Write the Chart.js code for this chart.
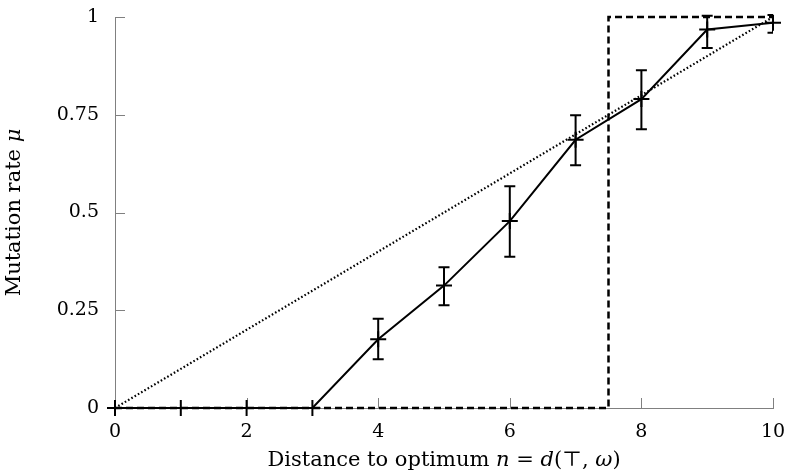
<!DOCTYPE html>
<html>
<head>
<meta charset="utf-8">
<script src="https://cdn.jsdelivr.net/npm/chart.js@4.4.1/dist/chart.umd.min.js"></script>
<style>
  body { margin: 0; background: #fff; }
</style>
</head>
<body>
<canvas id="mu-chart" width="786" height="472"></canvas>
<script>
// measured mutation rate with error bars
const distances = [0, 1, 2, 3, 4, 5, 6, 7, 8, 9, 10];
const muMean = [0, 0, 0, 0, 0.176, 0.313, 0.478, 0.686, 0.79, 0.968, 0.985];
const muLow  = [0, 0, 0, 0, 0.125, 0.263, 0.387, 0.621, 0.713, 0.921, 0.96];
const muHigh = [0, 0, 0, 0, 0.228, 0.36, 0.567, 0.749, 0.864, 1.003, 1.005];

// reference curves
const linearX = [0, 10];
const linearMu = [0, 1];
const stepX = [0, 7.5, 7.5, 10];
const stepMu = [0, 0, 1, 1];

const xTicks = [0, 2, 4, 6, 8, 10];
const yTicks = [0, 0.25, 0.5, 0.75, 1];
const yTickLabels = ["0", "0.25", "0.5", "0.75", "1"];

const FONT = '"DejaVu Serif", "Liberation Serif", serif';
const FONT_SIZE = 19;
const TITLE_SIZE = 21;
const AXIS_GREY = '#808080';

function points(xs, ys) {
  return xs.map((x, i) => ({ x: x, y: ys[i] }));
}

// short tick marks pointing into the plot
const innerTicks = {
  id: 'innerTicks',
  beforeDatasetsDraw(chart) {
    const ctx = chart.ctx;
    const xs = chart.scales.x, ys = chart.scales.y;
    ctx.save();
    ctx.strokeStyle = AXIS_GREY;
    ctx.lineWidth = 1;
    ctx.beginPath();
    xTicks.forEach(v => {
      const px = Math.round(xs.getPixelForValue(v)) + 0.5;
      ctx.moveTo(px, ys.bottom);
      ctx.lineTo(px, ys.bottom - 10);
    });
    yTicks.forEach(v => {
      const py = Math.round(ys.getPixelForValue(v)) + 0.5;
      ctx.moveTo(xs.left, py);
      ctx.lineTo(xs.left + 10, py);
    });
    ctx.stroke();
    ctx.restore();
  }
};

const errorBars = {
  id: 'errorBars',
  afterDatasetsDraw(chart) {
    const ctx = chart.ctx;
    const xs = chart.scales.x, ys = chart.scales.y;
    const area = chart.chartArea;
    ctx.save();
    ctx.beginPath();
    ctx.rect(area.left - 1, area.top - 4, area.right - area.left + 1, area.bottom - area.top + 8);
    ctx.clip();
    ctx.strokeStyle = '#000';
    ctx.lineWidth = 2;
    ctx.beginPath();
    distances.forEach((d, i) => {
      if (muHigh[i] === muLow[i]) return;
      const px = xs.getPixelForValue(d);
      const top = ys.getPixelForValue(muHigh[i]);
      const bot = ys.getPixelForValue(muLow[i]);
      ctx.moveTo(px, top); ctx.lineTo(px, bot);
      ctx.moveTo(px - 5.5, top); ctx.lineTo(px + 5.5, top);
      ctx.moveTo(px - 5.5, bot); ctx.lineTo(px + 5.5, bot);
    });
    ctx.stroke();
    ctx.restore();
  }
};

function drawRuns(ctx, runs, cx, y) {
  let total = 0;
  runs.forEach(r => { ctx.font = r[1]; total += ctx.measureText(r[0]).width; });
  let x = cx - total / 2;
  runs.forEach(r => {
    ctx.font = r[1];
    ctx.fillText(r[0], x, y);
    x += ctx.measureText(r[0]).width;
  });
}

const axisTitles = {
  id: 'axisTitles',
  afterDraw(chart) {
    const ctx = chart.ctx;
    const area = chart.chartArea;
    const up = TITLE_SIZE + 'px ' + FONT, it = 'italic ' + TITLE_SIZE + 'px ' + FONT;
    ctx.save();
    ctx.fillStyle = '#000';
    ctx.textBaseline = 'alphabetic';
    drawRuns(ctx, [
      ['Distance to optimum ', up], ['n', it], [' = ', up], ['d', it],
      ['(\u22A4, ', up], ['\u03C9', it], [')', up]
    ], (area.left + area.right) / 2, 466);
    ctx.translate(20, (area.top + area.bottom) / 2);
    ctx.rotate(-Math.PI / 2);
    drawRuns(ctx, [['Mutation rate ', up], ['\u03BC', it]], 0, 0);
    ctx.restore();
  }
};

new Chart(document.getElementById('mu-chart'), {
  type: 'line',
  data: {
    datasets: [
      {
        data: points(distances, muMean),
        borderColor: '#000',
        borderWidth: 2,
        pointStyle: 'cross',
        pointRadius: 8,
        pointBorderWidth: 2,
        pointBorderColor: '#000',
        tension: 0,
        clip: false
      },
      {
        data: points(stepX, stepMu),
        borderColor: '#000',
        borderWidth: 2.5,
        borderDash: [7, 4],
        pointRadius: 0,
        tension: 0,
        clip: false
      },
      {
        data: points(linearX, linearMu),
        borderColor: '#000',
        borderWidth: 2.2,
        borderDash: [1.6, 2.2],
        pointRadius: 0,
        tension: 0,
        clip: false
      }
    ]
  },
  options: {
    responsive: false,
    animation: false,
    layout: { padding: { left: 0, right: 13, top: 17, bottom: 0 } },
    plugins: {
      legend: { display: false },
      tooltip: { enabled: false }
    },
    scales: {
      x: {
        type: 'linear',
        min: 0,
        max: 10,
        afterBuildTicks: s => { s.ticks = xTicks.map(v => ({ value: v })); },
        afterFit: s => { s.height = 64; s.paddingLeft = 0; s.paddingRight = 0; },
        grid: { display: false, drawTicks: false },
        border: { display: true, color: AXIS_GREY, width: 1 },
        ticks: { color: '#000', font: { family: FONT, size: FONT_SIZE }, padding: 13, maxRotation: 0 }
      },
      y: {
        min: 0,
        max: 1,
        afterBuildTicks: s => { s.ticks = yTicks.map(v => ({ value: v })); },
        afterFit: s => { s.width = 115; s.paddingTop = 0; s.paddingBottom = 0; },
        grid: { display: false, drawTicks: false },
        border: { display: true, color: AXIS_GREY, width: 1 },
        ticks: {
          color: '#000',
          font: { family: FONT, size: FONT_SIZE },
          padding: 16,
          callback: (v, i) => yTickLabels[i]
        }
      }
    }
  },
  plugins: [innerTicks, errorBars, axisTitles]
});
</script>
</body>
</html>
